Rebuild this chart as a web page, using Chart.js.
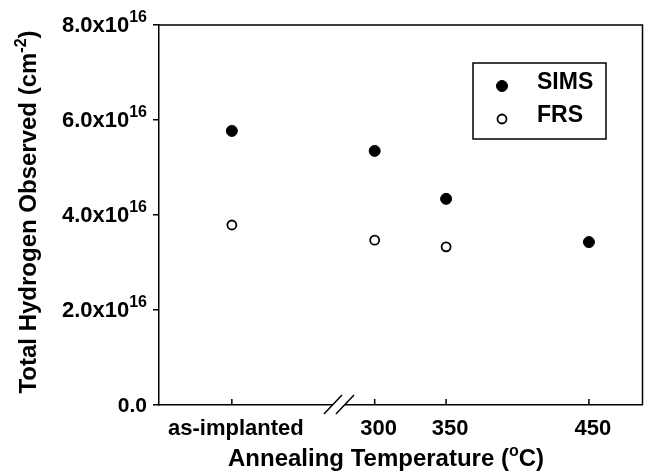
<!DOCTYPE html>
<html>
<head>
<meta charset="utf-8">
<script src="https://cdn.jsdelivr.net/npm/chart.js@4.4.0/dist/chart.umd.min.js"></script>
<style>
  body { margin: 0; background: #fff; }
</style>
</head>
<body>
<canvas id="c" width="649" height="475"></canvas>
<script>
// values (units of 1e16 cm^-2)
const categories = ["as-implanted", "300", "350", "450"];
const xPositions = [200, 300, 350, 450]; // where each category sits on the (broken) temperature axis
const simsValues = [5.77, 5.35, 4.34, 3.43];
const frsValues = [3.79, 3.47, 3.33, null];
const yTicks = [0, 2, 4, 6, 8];
const breakAt = 275;

const FONT = "'Liberation Sans', Arial, Helvetica, sans-serif";

// text with a raised superscript part
function supText(ctx, base, sup, x, y, align, size, supSize, rise) {
  ctx.font = `bold ${size}px ${FONT}`;
  const w1 = ctx.measureText(base).width;
  ctx.font = `bold ${supSize}px ${FONT}`;
  const w2 = ctx.measureText(sup).width;
  let x0 = x;
  if (align === "right") x0 = x - w1 - w2;
  if (align === "center") x0 = x - (w1 + w2) / 2;
  ctx.textAlign = "left";
  ctx.textBaseline = "alphabetic";
  ctx.font = `bold ${size}px ${FONT}`;
  ctx.fillText(base, x0, y);
  ctx.font = `bold ${supSize}px ${FONT}`;
  ctx.fillText(sup, x0 + w1, y - rise);
}

// base + superscript + tail, centred on x
function supText3(ctx, a, sup, b, x, y, size, supSize, rise) {
  ctx.font = `bold ${size}px ${FONT}`;
  const wa = ctx.measureText(a).width;
  const wb = ctx.measureText(b).width;
  ctx.font = `bold ${supSize}px ${FONT}`;
  const ws = ctx.measureText(sup).width;
  let x0 = x - (wa + ws + wb) / 2;
  ctx.textAlign = "left";
  ctx.textBaseline = "alphabetic";
  ctx.font = `bold ${size}px ${FONT}`;
  ctx.fillText(a, x0, y);
  ctx.fillText(b, x0 + wa + ws, y);
  ctx.font = `bold ${supSize}px ${FONT}`;
  ctx.fillText(sup, x0 + wa, y - rise);
}

const decor = {
  id: "decor",
  afterDraw(chart) {
    const ctx = chart.ctx;
    const a = chart.chartArea;
    const xs = chart.scales.x;
    const ys = chart.scales.y;
    ctx.save();
    ctx.strokeStyle = "#000";
    ctx.fillStyle = "#000";
    ctx.lineWidth = 1.5;

    // top and right frame
    ctx.beginPath();
    ctx.moveTo(a.left, a.top);
    ctx.lineTo(a.right, a.top);
    ctx.lineTo(a.right, a.bottom);
    ctx.stroke();

    // inward x tick marks
    xPositions.forEach(v => {
      const px = xs.getPixelForValue(v);
      ctx.beginPath();
      ctx.moveTo(px, a.bottom);
      ctx.lineTo(px, a.bottom - 6);
      ctx.stroke();
    });

    // axis break
    const bx = xs.getPixelForValue(breakAt);
    ctx.fillStyle = "#fff";
    ctx.fillRect(bx - 6, a.bottom - 3, 12, 6);
    ctx.beginPath();
    ctx.moveTo(bx - 15, a.bottom + 9);
    ctx.lineTo(bx + 3, a.bottom - 10);
    ctx.moveTo(bx - 3, a.bottom + 9);
    ctx.lineTo(bx + 15, a.bottom - 10);
    ctx.stroke();
    ctx.fillStyle = "#000";

    // y tick labels
    yTicks.forEach(v => {
      const py = ys.getPixelForValue(v);
      if (v === 0) {
        ctx.font = `bold 21px ${FONT}`;
        ctx.textAlign = "right";
        ctx.textBaseline = "alphabetic";
        ctx.fillText("0.0", 147, py + 7);
      } else {
        supText(ctx, v.toFixed(1) + "x10", "16", 147, py + 7, "right", 22, 16, 10);
      }
    });

    // x tick labels (slightly right of the ticks, as in the original)
    ctx.font = `bold 22px ${FONT}`;
    ctx.textAlign = "center";
    ctx.textBaseline = "alphabetic";
    categories.forEach((c, i) => {
      ctx.fillText(c, xs.getPixelForValue(xPositions[i]) + 4, 435);
    });

    // axis titles
    supText3(ctx, "Annealing Temperature (", "o", "C)", 386, 466, 24, 16, 10);

    ctx.save();
    ctx.translate(36, 212);
    ctx.rotate(-Math.PI / 2);
    supText3(ctx, "Total Hydrogen Observed (cm", "-2", ")", 0, 0, 24, 16, 10);
    ctx.restore();

    // legend
    ctx.lineWidth = 1.5;
    ctx.strokeRect(473, 63, 133, 76);
    const ds = chart.data.datasets;
    [[ds[0], 86], [ds[1], 119]].forEach(([d, y]) => {
      ctx.beginPath();
      ctx.arc(502, y, d.pointRadius, 0, Math.PI * 2);
      ctx.fillStyle = d.backgroundColor;
      ctx.fill();
      ctx.lineWidth = d.borderWidth;
      ctx.strokeStyle = d.borderColor;
      ctx.stroke();
      ctx.fillStyle = "#000";
      ctx.font = `bold 23px ${FONT}`;
      ctx.textAlign = "left";
      ctx.textBaseline = "middle";
      ctx.fillText(d.label, 537, y - 3);
    });
    ctx.restore();
  }
};

new Chart(document.getElementById("c"), {
  type: "scatter",
  data: {
    datasets: [
      {
        label: "SIMS",
        data: xPositions.map((x, i) => ({ x, y: simsValues[i] })),
        pointRadius: 5.5,
        backgroundColor: "#000",
        borderColor: "#000",
        borderWidth: 1
      },
      {
        label: "FRS",
        data: xPositions.map((x, i) => ({ x, y: frsValues[i] })).filter(p => p.y !== null),
        pointRadius: 4.5,
        backgroundColor: "#fff",
        borderColor: "#000",
        borderWidth: 1.8
      }
    ]
  },
  options: {
    responsive: false,
    animation: false,
    layout: { padding: { top: 25, right: 1 } },
    plugins: { legend: { display: false }, tooltip: { enabled: false } },
    scales: {
      x: {
        type: "linear",
        min: 149,
        max: 487.5,
        afterBuildTicks: s => { s.ticks = xPositions.map(v => ({ value: v })); },
        afterFit: s => { s.height = 70; },
        ticks: { display: false },
        grid: { display: false },
        border: { display: true, color: "#000", width: 1.5 }
      },
      y: {
        min: 0,
        max: 8,
        afterBuildTicks: s => { s.ticks = yTicks.map(v => ({ value: v })); },
        afterFit: s => { s.width = 159; },
        ticks: { display: false },
        grid: { drawOnChartArea: false, drawTicks: true, tickLength: 6, color: "#000", lineWidth: 1.5 },
        border: { display: true, color: "#000", width: 1.5 }
      }
    }
  },
  plugins: [decor]
});
</script>
</body>
</html>
